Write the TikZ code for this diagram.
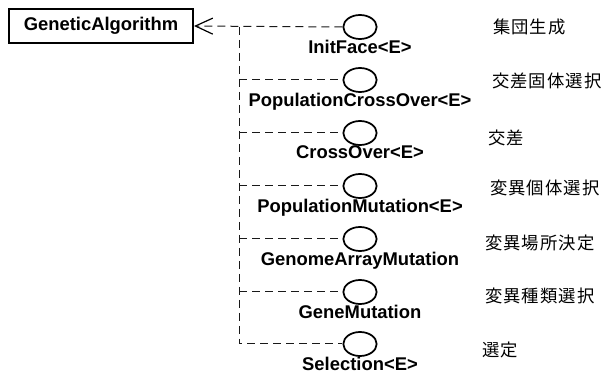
\documentclass[tikz,border=0pt]{standalone}
\usepackage{fontspec}
\setmainfont{Liberation Sans}
\newfontfamily\jp[LetterSpace=6]{Noto Sans CJK JP}
\usetikzlibrary{arrows.meta,shapes.geometric,positioning}

\begin{document}
\begin{tikzpicture}[x=0.75pt,y=-0.75pt,
	iface/.style={draw,ellipse,line width=1.3pt,minimum width=25pt,minimum height=18pt,inner sep=0pt},
	lbl/.style={inner sep=0pt,font=\fontsize{13.8}{15}\selectfont\bfseries},
	note/.style={anchor=west,inner sep=0pt,font=\jp\fontsize{13}{15}\selectfont},
	dep/.style={gray!20!black,line width=0.75pt,dash pattern=on 6pt off 3.75pt}]

	\useasboundingbox (0,0) rectangle (604,374);

	\node[draw,line width=1.5pt,minimum width=138pt,minimum height=25.5pt] (GA) at (101,26) {\fontsize{13.8}{15}\selectfont\bfseries GeneticAlgorithm};

	\node[iface] (i1) at (360,27) {};
	\node[iface] (i2) at (360,80) {};
	\node[iface] (i3) at (360,133) {};
	\node[iface] (i4) at (360,186) {};
	\node[iface] (i5) at (360,239) {};
	\node[iface] (i6) at (360,292) {};
	\node[iface] (i7) at (360,344) {};

	\node[lbl,below=0pt of i1] (l1) {InitFace<E>};
	\node[lbl,below=0pt of i2] (l2) {PopulationCrossOver<E>};
	\node[lbl,below=0pt of i3] (l3) {CrossOver<E>};
	\node[lbl,below=0pt of i4] (l4) {PopulationMutation<E>};
	\node[lbl,below=0pt of i5] (l5) {GenomeArrayMutation};
	\node[lbl,below=0pt of i6] (l6) {GeneMutation};
	\node[lbl,below=0pt of i7] (l7) {Selection<E>};

	\node[note] (n1) at (493,27) {集団生成};
	\node[note] (n2) at (492,81) {交差固体選択};
	\node[note] (n3) at (488,138) {交差};
	\node[note] (n4) at (490,188) {変異個体選択};
	\node[note] (n5) at (485,243) {変異場所決定};
	\node[note] (n6) at (485,296) {変異種類選択};
	\node[note] (n7) at (482,350) {選定};

	\coordinate (t1) at (239,27);
	\coordinate (t2) at (239,80);
	\coordinate (t3) at (239,133);
	\coordinate (t4) at (239,186);
	\coordinate (t5) at (239,239);
	\coordinate (t6) at (239,292);
	\coordinate (t7) at (239,344);

	% usage arrow to the class
	\draw[dep,-{Straight Barb[length=13pt,width=12pt,line width=0.9pt,black]}] (i1.west) -- (GA.east);
	\draw[dep] (t1) -- (t7) -- (i7.west);
	\draw[dep] (t2) -- (i2.west);
	\draw[dep] (t3) -- (i3.west);
	\draw[dep] (t4) -- (i4.west);
	\draw[dep] (t5) -- (i5.west);
	\draw[dep] (t6) -- (i6.west);

\end{tikzpicture}
\end{document}
